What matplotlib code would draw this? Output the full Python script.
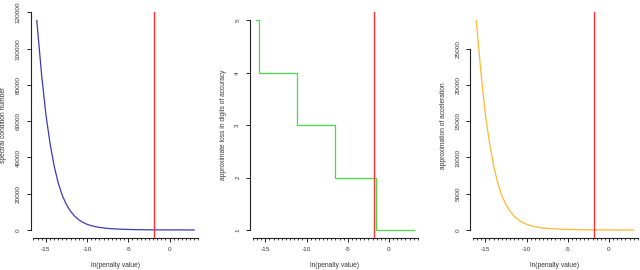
import matplotlib
matplotlib.use("Agg")
import matplotlib.pyplot as plt
from matplotlib.ticker import MultipleLocator, FixedLocator

plt.rcParams['font.family'] = ['Liberation Sans', 'DejaVu Sans']

# ln(penalty) grid
ln_penalty = [-16.1, -15.5, -15.0, -14.5, -14.0, -13.5, -13.0, -12.5, -12.0, -11.5,
              -11.0, -10.5, -10.0, -9.5, -9.0, -8.5, -8.0, -7.5, -7.0, -6.0,
              -5.0, -4.0, -3.0, -2.0, -1.0, 0.0, 1.0, 2.0, 3.0]

# spectral condition number
cond_number = [115600, 85000, 64000, 48000, 35500, 26000, 19000, 14000, 10300, 7600,
               5600, 4200, 3150, 2400, 1850, 1450, 1150, 900, 720, 470,
               310, 200, 135, 95, 70, 55, 45, 40, 36]

# approximation of acceleration
acceleration = [28900, 21300, 16000, 12000, 8900, 6500, 4750, 3500, 2580, 1900,
                1400, 1050, 790, 600, 460, 360, 290, 225, 180, 118,
                75, 48, 32, 22, 15, 11, 9, 8, 7]

# approximate loss in digits of accuracy (step function)
step_x = [-16.1, -15.75, -11.15, -6.55, -1.6, 3.0]
digits_lost = [5, 4, 3, 2, 1, 1]

chosen_penalty = -1.85

txt = '#333333'
fig = plt.figure(figsize=(6.4, 2.7), dpi=100)


def style_axes(ax, ylim, yticks, ybounds, ylabel):
    ax.set_xlim(-16.86, 3.76)
    ax.set_ylim(*ylim)
    for s in ['top', 'right']:
        ax.spines[s].set_visible(False)
    ax.spines['left'].set_bounds(*ybounds)
    ax.spines['bottom'].set_bounds(-16.5, 3.5)
    for s in ['left', 'bottom']:
        ax.spines[s].set_linewidth(0.8)
        ax.spines[s].set_color('#222222')
    ax.xaxis.set_major_locator(FixedLocator([-15, -10, -5, 0]))
    ax.xaxis.set_minor_locator(MultipleLocator(0.5))
    ax.set_xticklabels(['-15', '-10', '-5', '0'])
    ax.yaxis.set_major_locator(FixedLocator(yticks))
    ax.set_yticklabels([str(t) for t in yticks])
    ax.tick_params(axis='both', which='major', length=3, width=0.7,
                   labelsize=4.6, colors='#222222', labelcolor=txt)
    ax.tick_params(axis='x', which='minor', length=1.6, width=0.6, colors='#222222')
    ax.tick_params(axis='x', which='major', pad=3)
    ax.tick_params(axis='y', which='major', pad=4, labelrotation=90)
    for lab in ax.get_yticklabels():
        lab.set_va('center')
    ax.set_xlabel('ln(penalty value)', fontsize=4.8, color=txt)
    ax.xaxis.set_label_coords(0.5, -0.104)
    ax.set_ylabel(ylabel, fontsize=4.8, color=txt)
    ax.yaxis.set_label_coords(-0.138, 0.5)
    ax.axvline(chosen_penalty, color='#ff3030', lw=1.0)


ax1 = fig.add_axes([30.5 / 640, 1 - 238.4 / 270, 170 / 640, 226.4 / 270])
ax1.plot(ln_penalty, cond_number, color='#3a3ab8', lw=0.9)
style_axes(ax1, (-4624, 120224), [0, 20000, 40000, 60000, 80000, 100000, 120000],
           (0, 120000), 'spectral condition number')

ax2 = fig.add_axes([250 / 640, 1 - 238.4 / 270, 170 / 640, 226.4 / 270])
ax2.plot(step_x, digits_lost, color='#44dd44', lw=0.9, drawstyle='steps-post')
style_axes(ax2, (0.84, 5.16), [1, 2, 3, 4, 5], (1, 5),
           'approximate loss in digits of accuracy')

ax3 = fig.add_axes([470 / 640, 1 - 238.4 / 270, 170 / 640, 226.4 / 270])
ax3.plot(ln_penalty, acceleration, color='#ffb732', lw=0.9)
style_axes(ax3, (-1156, 30056), [0, 5000, 10000, 15000, 20000, 25000],
           (0, 25000), 'approximation of acceleration')

fig.savefig('out.png', dpi=100)
